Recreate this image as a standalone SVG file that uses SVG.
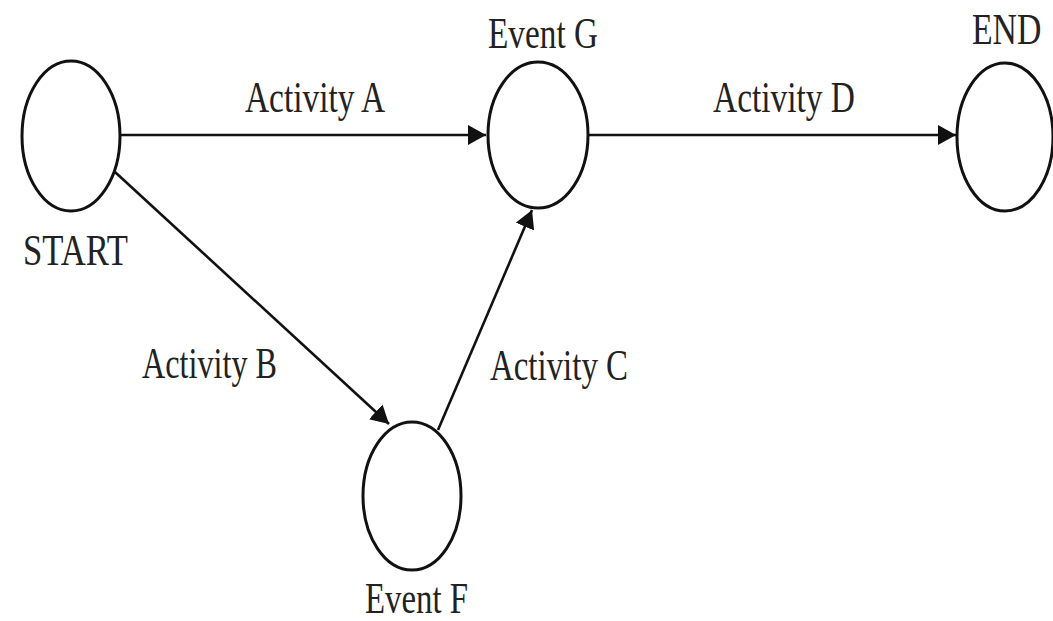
<svg xmlns="http://www.w3.org/2000/svg" width="1053" height="621" viewBox="0 0 1053 621">
  <style>
    .node { fill: #ffffff; stroke: #111111; stroke-width: 3; }
    .edge { fill: none; stroke: #111111; stroke-width: 2.6; }
    .lbl { font-family: "Liberation Serif", "DejaVu Serif", "Times New Roman", serif; font-size: 45px; fill: #222222; }
  </style>
  <defs>
    <marker id="arrow" markerUnits="userSpaceOnUse" markerWidth="20" markerHeight="22" refX="18" refY="10" orient="auto">
      <path d="M0,0 L18,10 L0,20 Z" fill="#111111"/>
    </marker>
  </defs>

  <rect width="1053" height="621" fill="#ffffff"/>

  <!-- activities -->
  <g id="connectors">
    <line class="edge" x1="120" y1="135" x2="486" y2="135" marker-end="url(#arrow)"/>
    <line class="edge" x1="588" y1="135" x2="956" y2="135" marker-end="url(#arrow)"/>
    <line class="edge" x1="115" y1="172" x2="389" y2="424" marker-end="url(#arrow)"/>
    <line class="edge" x1="438" y1="430" x2="532" y2="210" marker-end="url(#arrow)"/>
    <text class="lbl" x="245" y="112" textLength="140" lengthAdjust="spacingAndGlyphs">Activity A</text>
    <text class="lbl" x="713" y="112" textLength="142" lengthAdjust="spacingAndGlyphs">Activity D</text>
    <text class="lbl" x="142" y="378" textLength="135" lengthAdjust="spacingAndGlyphs">Activity B</text>
    <text class="lbl" x="490" y="380" textLength="138" lengthAdjust="spacingAndGlyphs">Activity C</text>
  </g>

  <!-- events -->
  <g id="start">
    <ellipse class="node" cx="71" cy="136" rx="49" ry="75"/>
    <text class="lbl" x="23" y="265" textLength="105" lengthAdjust="spacingAndGlyphs">START</text>
  </g>
  <g id="event-g">
    <ellipse class="node" cx="538" cy="135" rx="50" ry="73"/>
    <text class="lbl" x="488" y="48" textLength="110" lengthAdjust="spacingAndGlyphs">Event G</text>
  </g>
  <g id="end">
    <ellipse class="node" cx="1005" cy="137" rx="48" ry="74"/>
    <!-- condensed horizontally so the label keeps inside the right edge -->
    <text class="lbl" transform="translate(972,44) scale(0.75,1)" x="0" y="0">END</text>
  </g>
  <g id="event-f">
    <ellipse class="node" cx="412" cy="496" rx="49" ry="74"/>
    <text class="lbl" x="365" y="613" textLength="103" lengthAdjust="spacingAndGlyphs">Event F</text>
  </g>
</svg>
